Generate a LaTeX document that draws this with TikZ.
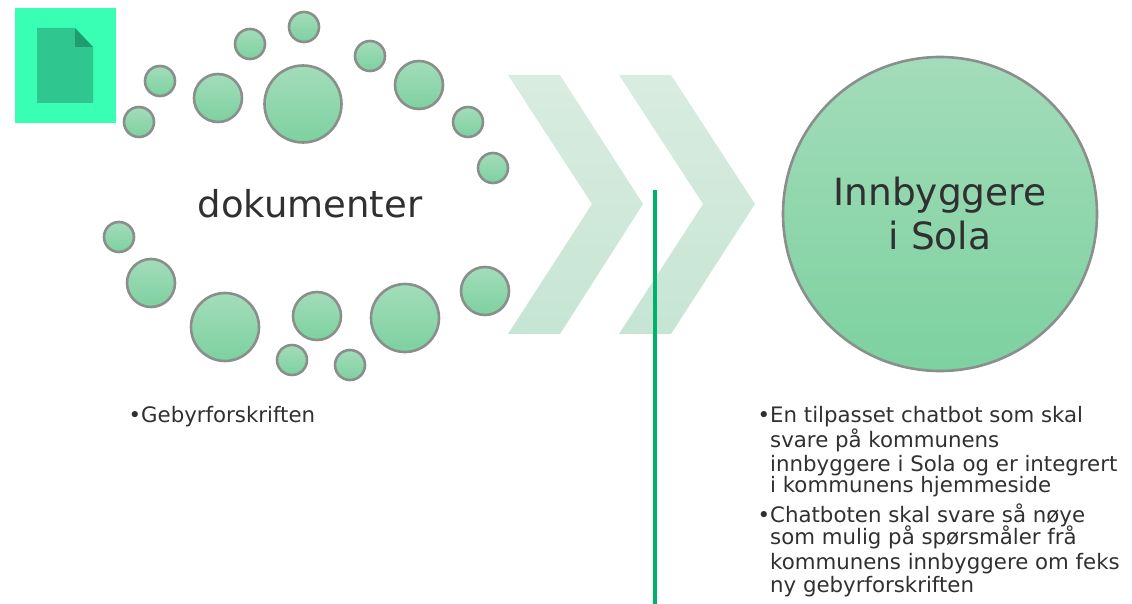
\documentclass[tikz,border=0pt]{standalone}
\usepackage{fontspec}
\setmainfont{DejaVu Sans}
\usetikzlibrary{shadings}

\definecolor{dotborder}{HTML}{8A8F8C}
\definecolor{dottop}{HTML}{A3DCBA}
\definecolor{dotbottom}{HTML}{7DD1A0}
\definecolor{chevrontop}{HTML}{D9ECE1}
\definecolor{chevronbottom}{HTML}{C6E5D4}
\definecolor{divider}{HTML}{00B06B}
\definecolor{iconback}{HTML}{38FFB4}
\definecolor{iconpage}{HTML}{2FC78F}
\definecolor{iconfold}{HTML}{1F9C70}
\definecolor{textdark}{HTML}{303030}

\tikzset{
    dot/.style={
        circle,
        draw=dotborder,
        line width=2.6pt,
        top color=dottop,
        bottom color=dotbottom,
        inner sep=0pt,
        minimum size=#1
    },
    chevron/.style={
        top color=chevrontop,
        bottom color=chevronbottom,
        draw=none
    },
    bullets/.style={
        anchor=north west,
        align=left,
        inner sep=0pt,
        text=textdark,
        font=\fontsize{21.3}{24}\selectfont
    }
}

\begin{document}
\begin{tikzpicture}[x=1pt, y=-1pt]
    \useasboundingbox (0, 0) rectangle (1132, 604);

    % document icon
    \fill[iconback] (14.5, 8) rectangle (115.5, 123);
    \fill[iconpage] (37, 28) -- (75, 28) -- (93, 47) -- (93, 103) -- (37, 103) -- cycle;
    \fill[iconfold] (75, 28) -- (93, 47) -- (75, 47) -- cycle;

    % upper ring
    \node[dot=77] (big) at (303, 104) {};
    \node[dot=48] (up1) at (218, 98) {};
    \node[dot=30] (up2) at (160, 81) {};
    \node[dot=30] (up3) at (139, 122) {};
    \node[dot=30] (up4) at (250, 44) {};
    \node[dot=30] (up5) at (304, 27) {};
    \node[dot=30] (up6) at (370, 56) {};
    \node[dot=48] (up7) at (419, 85) {};
    \node[dot=30] (up8) at (468, 122) {};
    \node[dot=30] (up9) at (493, 168) {};

    % lower ring
    \node[dot=30] (low1) at (119, 237) {};
    \node[dot=48] (low2) at (151, 283) {};
    \node[dot=68] (low3) at (225, 327) {};
    \node[dot=48] (low4) at (317, 316) {};
    \node[dot=30] (low5) at (292, 360) {};
    \node[dot=30] (low6) at (350, 365) {};
    \node[dot=68] (low7) at (405, 318) {};
    \node[dot=48] (low8) at (485, 291) {};

    \node[text=textdark, font=\fontsize{37}{44}\selectfont] (dokumenter) at (310, 204) {dokumenter};

    % chevrons
    \path[chevron] (508, 75) -- (560, 75) -- (643, 204) -- (560, 334) -- (508, 334) -- (592, 204) -- cycle;
    \path[chevron] (619, 75) -- (671, 75) -- (755, 204) -- (671, 334) -- (619, 334) -- (703, 204) -- cycle;

    \node[
        dot=314,
        align=center,
        text=textdark,
        font=\fontsize{37.5}{44}\selectfont
    ] (sola) at (940, 214) {Innbyggere\\i Sola};

    \fill[divider] (653, 190) rectangle (657, 604);

    % lists
    \node[bullets] (gebyr) at (141, 406) {\llap{•}Gebyrforskriften};
    \node[bullets] (chatbot) at (770, 406) {\llap{•}En tilpasset chatbot som skal\\[1pt]
        svare på kommunens\\
        innbyggere i Sola og er integrert\\[-3pt]
        i kommunens hjemmeside};
    \node[bullets] (svar) at (770, 504) {\llap{•}Chatboten skal svare så nøye\\[-2pt]
        som mulig på spørsmåler frå\\[1pt]
        kommunens innbyggere om feks\\[-1pt]
        ny gebyrforskriften};
\end{tikzpicture}
\end{document}
